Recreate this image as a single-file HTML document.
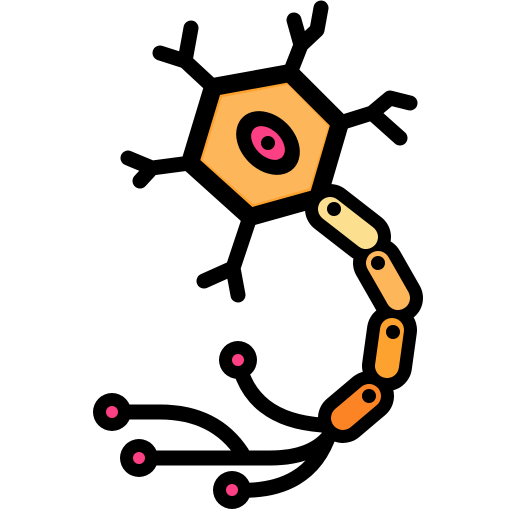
<!DOCTYPE html>
<html><head><meta charset="utf-8"><style>html,body{margin:0;padding:0;background:#fff}svg{display:block}</style></head>
<body>
<svg width="512" height="512" viewBox="0 0 512 512" xmlns="http://www.w3.org/2000/svg">
<g fill="none" stroke="#000" stroke-width="15" stroke-linecap="round" stroke-linejoin="round">
<path d="M213,87 L185,61 L160,53 M185,61 L191,28"/>
<path d="M290,73 L301,45 L294,20 M301,45 L317,30 L321,8"/>
<path d="M340,123 L372,113 L390,98 L410,103 M372,113 L400,138"/>
<path d="M190,163 L152,168 L128,158 M152,168 L140,181"/>
<path d="M250,217 L233,268 L204,281 M233,268 L238,295"/>
<path d="M238,360 Q250,420 322,425 M112,412 H160 Q215,412 242,453 M139,458 H270 Q315,458 332,432 M232,490 Q310,495 330,432"/>
</g>
<g>
<circle cx="238" cy="360" r="19" fill="#000"/><circle cx="238" cy="360" r="6" fill="#fd3f83"/>
<circle cx="112" cy="412" r="19" fill="#000"/><circle cx="112" cy="412" r="6" fill="#fd3f83"/>
<circle cx="139" cy="458" r="19" fill="#000"/><circle cx="139" cy="458" r="6" fill="#fd3f83"/>
<circle cx="232" cy="490" r="19" fill="#000"/><circle cx="232" cy="490" r="6" fill="#fd3f83"/>
</g>
<g>
<polygon points="213,87 290,73 340,123 318,198 250,217 190,163" fill="#fda22f" stroke="#000" stroke-width="18" stroke-linejoin="round"/>
<polygon points="224,100 287,88 325,127 307,186 254,201 206,159" fill="#fdb65a" stroke="#fdb65a" stroke-width="6" stroke-linejoin="round"/>
<g transform="translate(268,143) rotate(45)">
<ellipse rx="36" ry="27" fill="#000"/>
<ellipse rx="20" ry="13" fill="#fd3f83"/>
<circle r="7" fill="#000"/>
</g>
</g>
<g stroke-linecap="round" fill="none">
<g stroke="#000" stroke-width="50">
<line x1="330" y1="209" x2="366" y2="237"/>
<line x1="378" y1="263" x2="398" y2="298"/>
<line x1="392" y1="330" x2="387" y2="366"/>
<line x1="369" y1="396" x2="343" y2="418"/>
</g>
<line x1="330" y1="209" x2="366" y2="237" stroke="#fddf90" stroke-width="24"/>
<line x1="378" y1="263" x2="398" y2="298" stroke="#fdb65a" stroke-width="24"/>
<line x1="392" y1="330" x2="387" y2="366" stroke="#fda22f" stroke-width="24"/>
<line x1="369" y1="396" x2="343" y2="418" stroke="#fd8424" stroke-width="24"/>
</g>
<g fill="#000">
<circle cx="334" cy="209" r="7"/><circle cx="378" cy="263" r="7"/><circle cx="393" cy="332" r="7"/><circle cx="369" cy="396" r="7"/>
</g>
</svg>
</body></html>
